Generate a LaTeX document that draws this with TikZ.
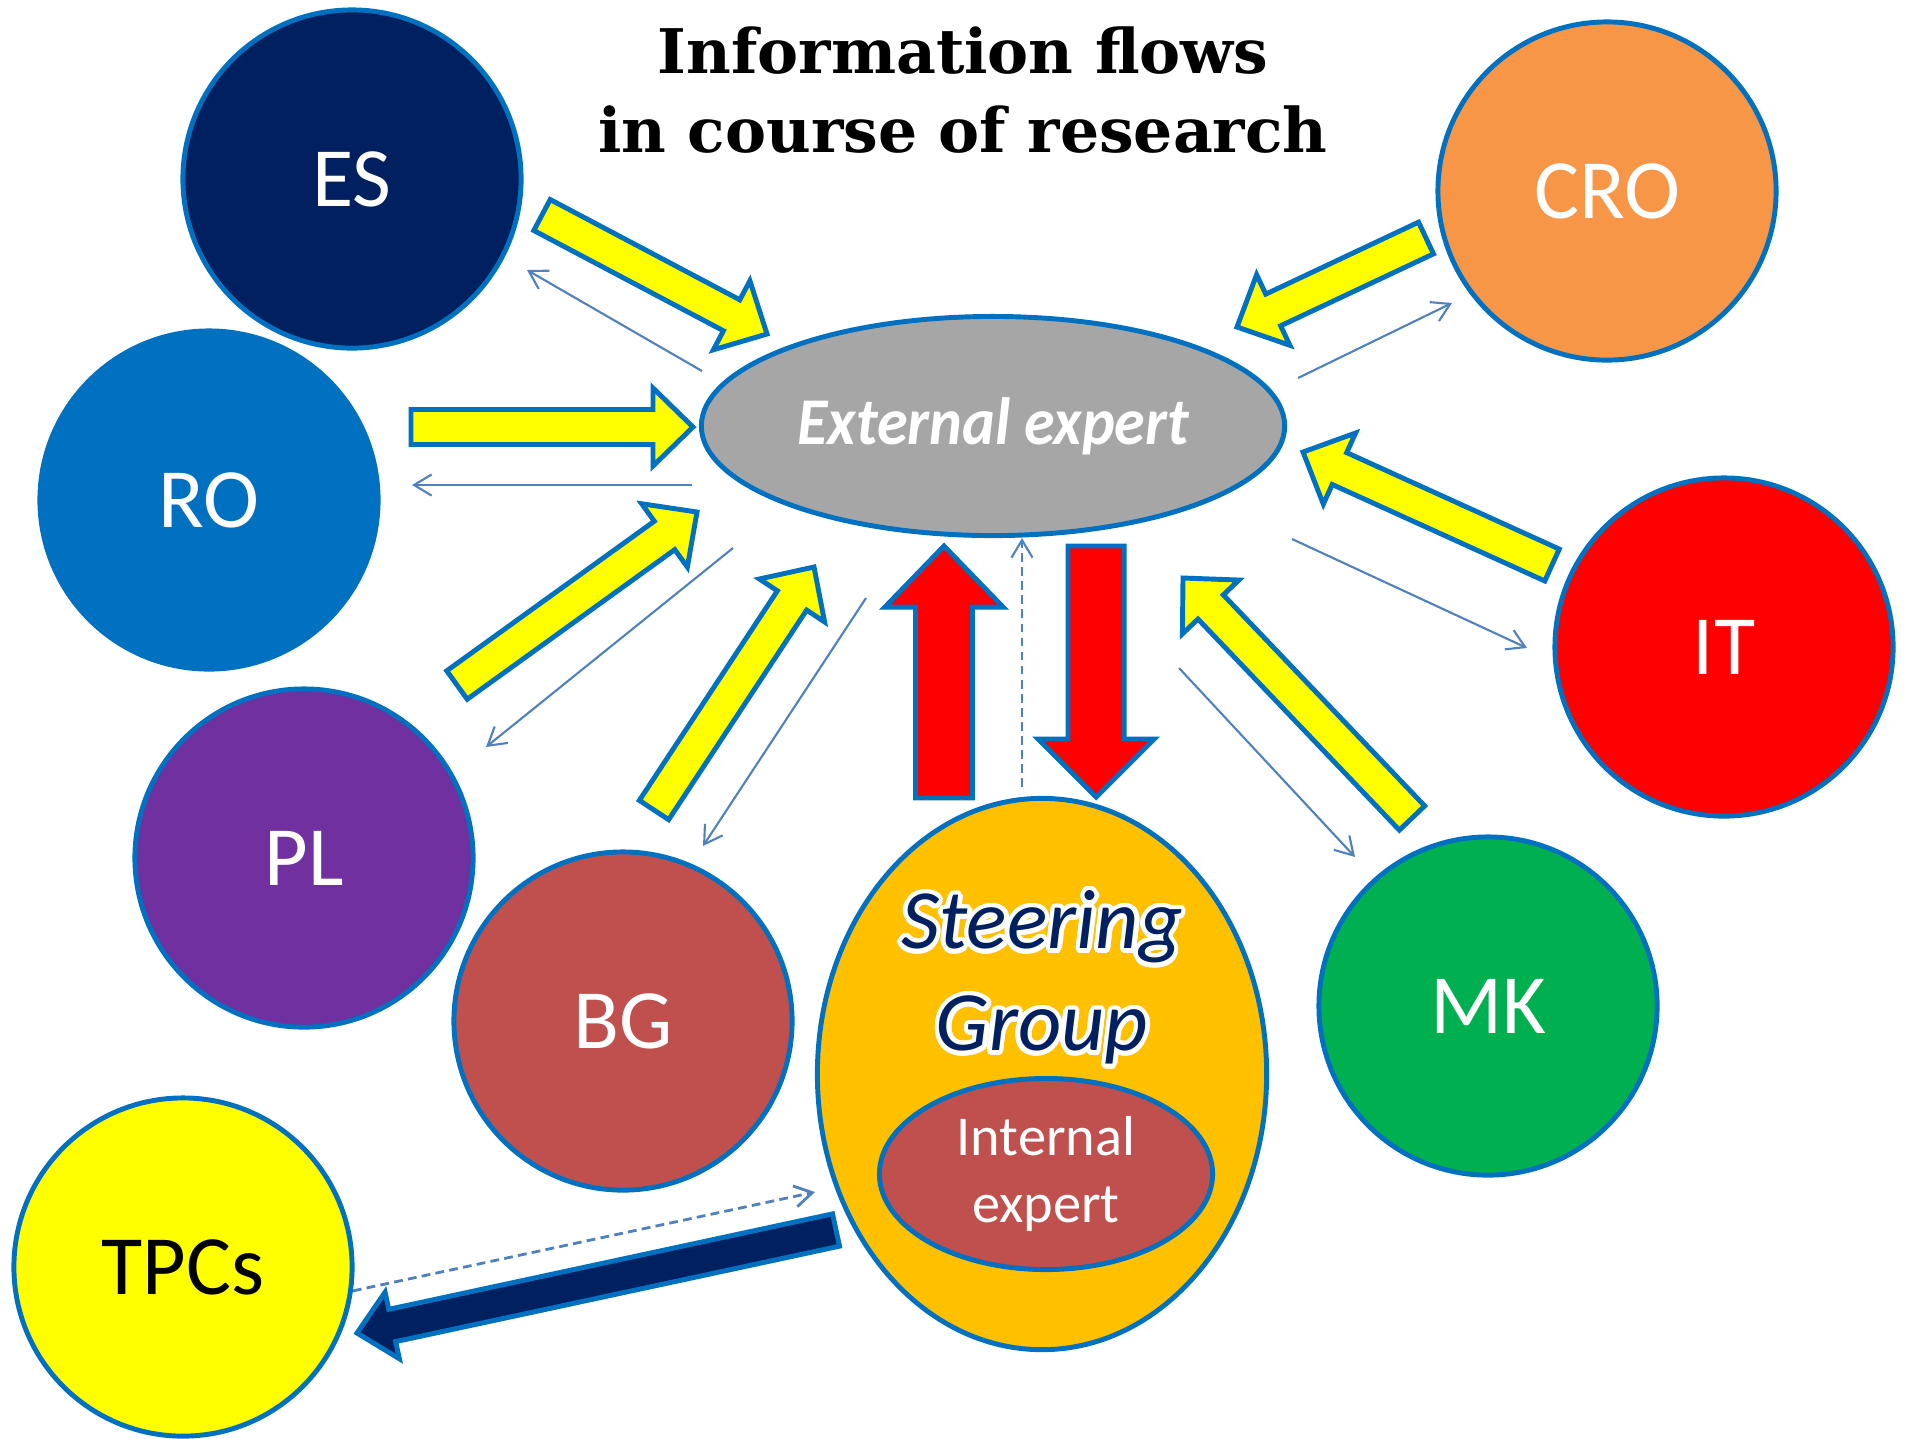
\documentclass[tikz,border=0pt]{standalone}
\usepackage{fontspec}
\setmainfont{Carlito}
\newfontfamily\headfont{DejaVu Serif}
\newfontfamily\eefont[FakeStretch=0.93]{Carlito}
\usepackage[copies]{contour}
\usetikzlibrary{arrows.meta,calc,shapes.geometric}

\definecolor{rim}{HTML}{0070C0}
\definecolor{navy}{HTML}{002060}
\definecolor{croorange}{HTML}{F79646}
\definecolor{plpurple}{HTML}{7030A0}
\definecolor{bgred}{HTML}{C0504D}
\definecolor{mkgreen}{HTML}{00B050}
\definecolor{hlyellow}{HTML}{FFFF00}
\definecolor{eegrey}{HTML}{A6A6A6}
\definecolor{sgamber}{HTML}{FFC000}
\definecolor{infoblue}{HTML}{4F81BD}

\contourlength{1.3pt}

\tikzset{
  headline/.style={anchor=base, font=\headfont\bfseries\fontsize{17.5}{20}\selectfont},
  bubble/.style={circle, draw=rim, line width=1.4pt, minimum size=3.38cm,
    inner sep=0pt, text=white, font=\fontsize{24}{28}\selectfont},
  oval/.style={ellipse, draw=rim, line width=1.4pt, inner sep=0pt, align=center},
  info/.style={draw=infoblue, line width=0.6pt, -{Straight Barb[length=5pt,width=6pt]}},
  infodash/.style={info, line width=0.8pt, dash pattern=on 2.5pt off 1.5pt},
}

% block arrow: style, tail, tip, half shaft, half head, head length
\newcommand{\blockarrow}[6]{%
  \coordinate (ba-h) at ($(#3)!#6!(#2)$);
  \draw[draw=rim, line width=1.4pt, #1]
    ($(#2)!#4!90:(#3)$) -- ($(ba-h)!#4!-90:(#2)$) -- ($(ba-h)!#5!-90:(#2)$)
    -- (#3) -- ($(ba-h)!#5!90:(#2)$) -- ($(ba-h)!#4!90:(#2)$)
    -- ($(#2)!#4!-90:(#3)$) -- cycle;}

\begin{document}
\begin{tikzpicture}[x=0.01cm, y=-0.01cm]
\useasboundingbox (0,0) rectangle (1910,1438);

% title
\node[headline] (title) at (963,73) {Information flows};
\node[headline] (subtitle) at (963,152) {in course of research};

% partners
\node[bubble, fill=navy] (ES) at (352,179) {ES};
\node[bubble, fill=rim] (RO) at (209,500) {RO};
\node[bubble, fill=plpurple] (PL) at (304,858) {PL};
\node[bubble, fill=bgred] (BG) at (623,1021) {BG};
\node[bubble, fill=hlyellow, text=black] (TPCs) at (183,1267) {TPCs};
\node[bubble, fill=croorange] (CRO) at (1607,191) {CRO};
\node[bubble, fill=red] (IT) at (1724,647) {IT};
\node[bubble, fill=mkgreen] (MK) at (1488,1006) {MK};

% experts
\node[oval, fill=eegrey, minimum width=5.83cm, minimum height=2.19cm, text=white,
  font=\eefont\bfseries\itshape\fontsize{19}{22}\selectfont] (EE) at (993,426) {External expert};
\node[oval, fill=sgamber, minimum width=4.49cm, minimum height=5.51cm] (SG) at (1042,1074) {};
\node[align=center, text=navy, font=\itshape\fontsize{24}{29}\selectfont] (SGname) at (1042,980)
  {\contour{white}{Steering}\\\contour{white}{Group}};
\node[oval, fill=bgred, minimum width=3.33cm, minimum height=1.91cm, text=white,
  font=\fontsize{16}{19}\selectfont] (IE) at (1046,1174) {Internal\\expert};

% ends of the flows
\coordinate (esT) at (542,215);   \coordinate (esH) at (767,334);
\coordinate (roT) at (411,427);   \coordinate (roH) at (693,427);
\coordinate (plT) at (457,685);   \coordinate (plH) at (697,512);
\coordinate (bgT) at (654,810);   \coordinate (bgH) at (814,567);
\coordinate (mkT) at (1412,818);  \coordinate (mkH) at (1183,578);
\coordinate (itT) at (1552,565);  \coordinate (itH) at (1303,452);
\coordinate (croT) at (1426,238); \coordinate (croH) at (1237,327);
\coordinate (upT) at (944,798);   \coordinate (upH) at (944,546);
\coordinate (dnT) at (1096,546);  \coordinate (dnH) at (1096,797);
\coordinate (tpT) at (836,1230);  \coordinate (tpH) at (357,1333);

\coordinate (toES) at (702,371);   \coordinate (atES) at (527,270);
\coordinate (toRO) at (692,485);   \coordinate (atRO) at (412,485);
\coordinate (toPL) at (733,548);   \coordinate (atPL) at (486,747);
\coordinate (toBG) at (866,598);   \coordinate (atBG) at (703,846);
\coordinate (toMK) at (1179,668);  \coordinate (atMK) at (1355,857);
\coordinate (toIT) at (1292,539);  \coordinate (atIT) at (1527,648);
\coordinate (toCRO) at (1298,378); \coordinate (atCRO) at (1452,303);
\coordinate (sgUp) at (1022,787);
\coordinate (atSG) at (815,1192);

% big flows
\foreach \t/\h in {esT/esH, roT/roH, plT/plH, bgT/bgH, mkT/mkH, itT/itH, croT/croH}
  \blockarrow{fill=hlyellow}{\t}{\h}{0.175cm}{0.39cm}{0.40cm};
\blockarrow{fill=red}{upT}{upH}{0.285cm}{0.59cm}{0.61cm}
\blockarrow{fill=red}{dnT}{dnH}{0.28cm}{0.58cm}{0.58cm}
\blockarrow{fill=navy}{tpT}{tpH}{0.165cm}{0.34cm}{0.36cm}

% feedback
\foreach \s/\e in {toES/atES, toRO/atRO, toPL/atPL, toBG/atBG, toMK/atMK, toIT/atIT, toCRO/atCRO}
  \draw[info] (\s) -- (\e);
\draw[infodash, line width=0.6pt] (sgUp) -- (sgUp |- EE.south);
\draw[infodash] (TPCs.-8) -- (atSG);
\end{tikzpicture}
\end{document}
